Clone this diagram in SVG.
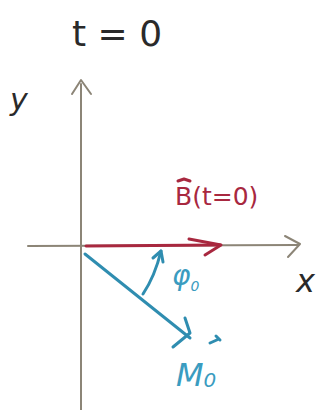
<svg xmlns="http://www.w3.org/2000/svg" width="322" height="410" viewBox="0 0 322 410">
<style>
.ax{stroke:#8c8577;stroke-width:2;fill:none;stroke-linecap:round;stroke-linejoin:round}
.red{stroke:#a8283f;stroke-width:3;fill:none;stroke-linecap:round;stroke-linejoin:round}
.blue{stroke:#2f8db0;stroke-width:3;fill:none;stroke-linecap:round;stroke-linejoin:round}
.ink{font-family:"DejaVu Sans",sans-serif;fill:#2a2a2a}
.tr{font-family:"DejaVu Sans",sans-serif;fill:#a8283f}
.tb{font-family:"DejaVu Sans",sans-serif;fill:#3a9cc0}
</style>
<rect width="322" height="410" fill="#ffffff"/>
<g id="title"><text class="ink" x="72" y="46" font-size="36">t = 0</text></g>
<g id="axes">
<path class="ax" d="M81 84 L81 410"/>
<path class="ax" d="M72 94 L81 80 L91 94"/>
<path class="ax" d="M28 246 L298 245"/>
<path class="ax" d="M285 236 L300 244 L288 257"/>
<text class="ink" x="10" y="110" font-size="30" font-style="italic" font-weight="300">y</text>
<text class="ink" x="296" y="292" font-size="32" font-style="italic" font-weight="300">x</text>
</g>
<g id="connectors">
<g id="B">
<path class="red" d="M86 246 L220 245"/>
<path class="red" d="M189 239 L221 245 L205 255"/>
<text class="tr" x="175" y="205" font-size="25">B(t=0)</text>
<path class="red" d="M178 181 L184 179 L190 181" stroke-width="1.5"/>
</g>
<g id="M">
<path class="blue" d="M85 254 L190 338"/>
<path class="blue" d="M185 318 L190 333 L173 347" stroke-width="2.5"/>
<text class="tb" x="176" y="386" font-size="32" font-style="italic">M<tspan font-size="20" dy="1">0</tspan></text>
<path class="blue" d="M210 343 L219 339 M216 336 L220 340" stroke-width="1.5"/>
</g>
<g id="phi">
<path class="blue" d="M143 294 Q155 276 161 251" stroke-width="2.5"/>
<path class="blue" d="M153 258 L161 251 L163 262" stroke-width="2"/>
<text class="tb" x="172" y="285" font-size="28" font-style="italic">φ<tspan font-size="14" dy="6">0</tspan></text>
</g>
</g>
</svg>
